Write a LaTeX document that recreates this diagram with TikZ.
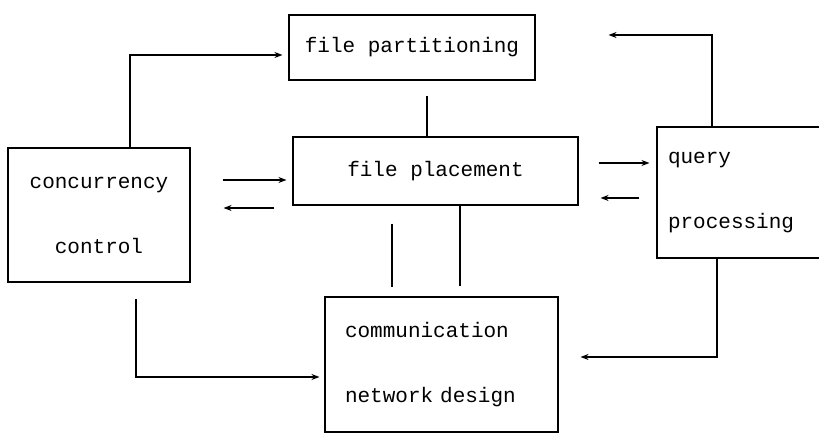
\documentclass[tikz,border=0pt]{standalone}
\usepackage{fontspec}
\setmonofont{Liberation Mono}
\usetikzlibrary{arrows.meta}
\begin{document}
\begin{tikzpicture}[x=1pt, y=1pt, line width=1.1pt,
		every node/.style={font=\ttfamily\fontsize{21}{65}\selectfont},
		box/.style={draw, rectangle, inner sep=0pt},
		link/.style={-{Stealth[length=8pt, width=6pt]}}]
	\useasboundingbox (0,0) rectangle (819,435);
	\node[box, minimum width=246pt, minimum height=65pt] (part) at (412,387.5) {file partitioning};
	\node[box, minimum width=285pt, minimum height=68pt] (place) at (435.5,264) {file placement};
	\node[box, minimum width=182pt, minimum height=134pt, align=center] (conc) at (99,220) {concurrency\\control};
	\node[box, minimum height=131pt, inner xsep=11pt, text width=151pt, align=left] (query) at (743.5,242.5) {query\\processing};
	\node[box, minimum height=135pt, inner xsep=20pt, text width=193pt, align=left] (comm) at (441.5,70.5) {communication\\network design};
	% corner points of the links
	\coordinate (cp) at (130,380);
	\coordinate (qp) at (712,400);
	\coordinate (cc) at (136,58);
	\coordinate (qc) at (717,78);
	% rows of the short arrows
	\coordinate (r1) at (0,255);
	\coordinate (r2) at (0,227);
	\coordinate (r3) at (0,272);
	\coordinate (r4) at (0,237);
	% columns of the plain lines
	\coordinate (v1) at (427,0);
	\coordinate (v2) at (392,0);
	\coordinate (v3) at (460,0);
	\draw[link, shorten >=6pt] (conc.north -| cp) |- (part.west |- cp);
	\draw[link, shorten >=73pt] (query.north -| qp) |- (part.east |- qp);
	\draw[shorten <=15pt] (part.south -| v1) -- (place.north -| v1);
	\draw[link, shorten <=32pt, shorten >=6pt] (conc.east |- r1) -- (place.west |- r1);
	\draw[link, shorten <=18pt, shorten >=33pt] (place.west |- r2) -- (conc.east |- r2);
	\draw[link, shorten <=20pt, shorten >=7pt] (place.east |- r3) -- (query.west |- r3);
	\draw[link, shorten <=17pt, shorten >=22pt] (query.west |- r4) -- (place.east |- r4);
	\draw[shorten <=18pt, shorten >=9pt] (place.south -| v2) -- (comm.north -| v2);
	\draw[shorten >=10pt] (place.south -| v3) -- (comm.north -| v3);
	\draw[link, shorten <=16pt, shorten >=5pt] (conc.south -| cc) |- (comm.west |- cc);
	\draw[link, shorten >=22pt] (query.south -| qc) |- (comm.east |- qc);
\end{tikzpicture}
\end{document}
